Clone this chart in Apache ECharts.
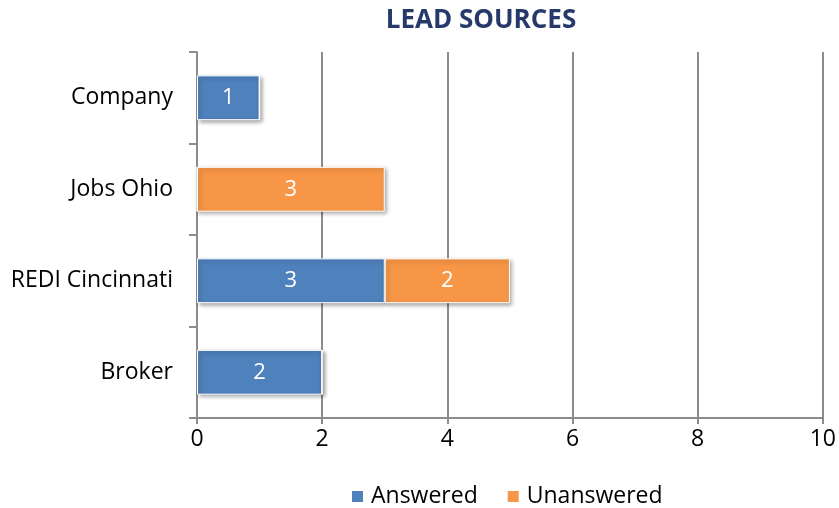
<!DOCTYPE html>
<html>
<head>
<meta charset="utf-8">
<script src="https://cdn.jsdelivr.net/npm/echarts@6/dist/echarts.min.js"></script>
<style>
  html, body { margin: 0; padding: 0; background: #fff; }
  #chart { width: 839px; height: 508px; }
</style>
</head>
<body>
<div id="chart"></div>
<script>
const categories = ['Broker', 'REDI Cincinnati', 'Jobs Ohio', 'Company']
const answered = [2, 3, 0, 1]
const unanswered = [0, 2, 3, 0]
const xTicks = [0, 2, 4, 6, 8, 10]

const font = 'Open Sans'
const gridColor = '#8c8c8c'

function barSeries(name, data, color) {
  return {
    name: name,
    type: 'bar',
    stack: 'total',
    barWidth: '49%',
    data: data,
    itemStyle: {
      color: color,
      borderColor: '#fff',
      borderWidth: 1,
      shadowColor: 'rgba(0,0,0,0.35)',
      shadowBlur: 4,
      shadowOffsetX: 2,
      shadowOffsetY: 2
    },
    label: {
      show: true,
      position: 'inside',
      color: '#fff',
      fontFamily: font,
      fontSize: 22,
      formatter: p => (p.value ? String(p.value) : '')
    }
  }
}

const chart = echarts.init(document.getElementById('chart'))
chart.setOption({
  animation: false,
  textStyle: { fontFamily: font },
  title: {
    text: 'LEAD SOURCES',
    left: 476,
    textAlign: 'center',
    top: 3,
    textStyle: { color: '#27396b', fontSize: 26, fontWeight: 'bold', fontFamily: font }
  },
  legend: {
    top: 480,
    left: 345,
    itemWidth: 13,
    itemHeight: 13,
    itemGap: 28,
    icon: 'rect',
    textStyle: { color: '#000', fontSize: 23, fontFamily: font, padding: [0, 0, 0, 2] },
    data: ['Answered', 'Unanswered']
  },
  grid: { left: 197, right: 16, top: 52, bottom: 90, containLabel: false },
  xAxis: {
    type: 'value',
    min: xTicks[0],
    max: xTicks[xTicks.length - 1],
    interval: 2,
    axisLine: { show: true, lineStyle: { color: gridColor, width: 2 } },
    axisTick: { show: true, length: 6, lineStyle: { color: gridColor, width: 2 } },
    axisLabel: { color: '#000', fontSize: 23, fontFamily: font, margin: 10 },
    splitLine: { show: true, lineStyle: { color: gridColor, width: 2 } }
  },
  yAxis: {
    type: 'category',
    data: categories,
    axisLine: { show: true, lineStyle: { color: gridColor, width: 2 } },
    axisTick: { show: true, length: 8, lineStyle: { color: gridColor, width: 2 } },
    axisLabel: { color: '#000', fontSize: 23, fontFamily: font, margin: 24 },
    splitLine: { show: false }
  },
  series: [
    barSeries('Answered', answered, '#4f81bd'),
    barSeries('Unanswered', unanswered, '#f79646')
  ]
})
</script>
</body>
</html>
